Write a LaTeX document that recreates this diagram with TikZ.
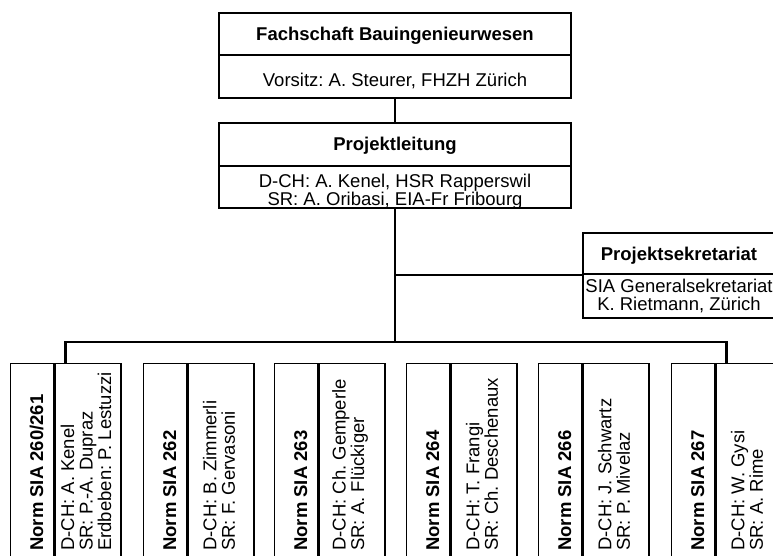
\documentclass[tikz,border=0pt]{standalone}
\usepackage{fontspec}
\setmainfont{Liberation Sans}
\frenchspacing
\begin{document}
\begin{tikzpicture}[x=1pt, y=-1pt,
    every node/.style={font=\fontsize{18.5}{18.5}\selectfont, inner sep=0pt},
    box/.style={draw, line width=1.4pt},
    head/.style={box, font=\fontsize{18.5}{18.5}\selectfont\bfseries, text height=13pt, text depth=0pt},
    conn/.style={line width=2.2pt}]
  \useasboundingbox (0,0) rectangle (773,556);
  \clip (0,0) rectangle (773,556);

  % Fachschaft und Projektleitung
  \node[head, minimum width=352, minimum height=42] (fach) at (395,34) {Fachschaft Bauingenieurwesen};
  \node[box, minimum width=352, minimum height=43, text height=21pt, text depth=0pt] (vors) at (395,76.5) {Vorsitz: A. Steurer, FHZH Zürich};
  \node[head, minimum width=352, minimum height=43] (leit) at (395,144.5) {Projektleitung};
  \node[box, minimum width=352, minimum height=42, align=center, text height=37pt, text depth=0pt] (leitp) at (395,187) {D-CH: A. Kenel, HSR Rapperswil\\SR: A. Oribasi, EIA-Fr Fribourg};

  % Sekretariat
  \node[head, minimum width=192, minimum height=41] (sekr) at (679,253.5) {Projektsekretariat};
  \node[box, minimum width=192, minimum height=44, align=center] (sekrp) at (679,296) {SIA Generalsekretariat\\K. Rietmann, Zürich};

  \coordinate (bus) at (395,342);
  \draw[conn] (vors.south) -- (leit.north);
  \draw[conn] (leitp.south) -- (bus);
  \draw[conn] (leitp.south |- sekr.south west) -- (sekr.south west);

  % Normen
  \foreach \x/\nr/\pp [count=\i] in {10/{260/261}/{D-CH: A. Kenel\\SR: P.-A. Dupraz\\Erdbeben: P. Lestuzzi},
      143/262/{D-CH: B. Zimmerli\\SR: F. Gervasoni},
      274/263/{D-CH: Ch. Gemperle\\SR: A. Flückiger},
      406/264/{D-CH: T. Frangi\\SR: Ch. Deschenaux},
      538/266/{D-CH: J. Schwartz\\SR: P. Mivelaz},
      671/267/{D-CH: W. Gysi\\SR: A. Rime}} {
    \node[box, minimum width=43, minimum height=200, anchor=north west] (norm\i) at (\x,363) {};
    \node[box, minimum width=66, minimum height=200, anchor=north west] (pers\i) at (norm\i.north east) {};
    \node[font=\fontsize{18.5}{18.5}\selectfont\bfseries, rotate=90, anchor=base west] (nt\i) at (\x+33,551) {Norm SIA \nr};
    \node[rotate=90, anchor=west, align=left] (pt\i) at (\x+76,551) {\pp};
  }
  \draw[conn] ([xshift=11pt]pers1.north west) |- (bus) -| ([xshift=11pt]pers6.north west);
\end{tikzpicture}
\end{document}
